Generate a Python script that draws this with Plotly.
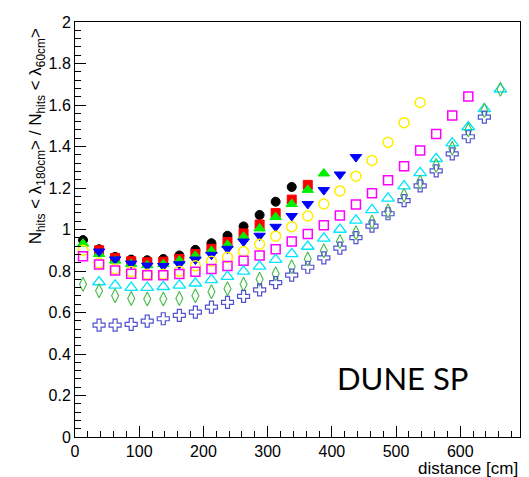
import plotly.graph_objects as go

# x positions (cm): 12.5 + 25*k
x_all = [12.5 + 25 * k for k in range(27)]

black_y = [0.949, 0.905, 0.868, 0.855, 0.852, 0.858, 0.875, 0.902, 0.934, 0.970, 1.015, 1.070, 1.134, 1.205]
red_y = [0.900, 0.863, 0.847, 0.842, 0.845, 0.858, 0.882, 0.907, 0.940, 0.981, 1.024, 1.079, 1.144, 1.215]
green_y = [0.932, 0.882, 0.850, 0.834, 0.828, 0.833, 0.850, 0.873, 0.897, 0.926, 0.965, 1.005, 1.060, 1.123, 1.191, 1.270]
blue_y = [0.894, 0.856, 0.836, 0.826, 0.824, 0.833, 0.855, 0.878, 0.907, 0.942, 0.970, 1.013, 1.065, 1.123, 1.190, 1.265, 1.349]
yellow_y = [0.900, 0.839, 0.810, 0.797, 0.784, 0.784, 0.799, 0.825, 0.847, 0.866, 0.894, 0.929, 0.968, 1.013, 1.065, 1.123,
            1.186, 1.257, 1.333, 1.420, 1.515, 1.612]
magenta_y = [0.871, 0.831, 0.803, 0.787, 0.780, 0.780, 0.786, 0.796, 0.810, 0.824, 0.849, 0.875, 0.905, 0.942, 0.978,
             1.020, 1.068, 1.120, 1.175, 1.237, 1.305, 1.381, 1.460, 1.549, 1.641]
cyan_y = [0.747, 0.731, 0.720, 0.720, 0.724, 0.731, 0.741, 0.757, 0.773, 0.798, 0.822, 0.855, 0.883, 0.918, 0.957,
          1.000, 1.044, 1.095, 1.150, 1.209, 1.273, 1.341, 1.416, 1.494, 1.581, 1.676]
diamond_y = [0.736, 0.705, 0.681, 0.668, 0.665, 0.665, 0.668, 0.681, 0.700, 0.715, 0.736, 0.760, 0.787, 0.820, 0.858,
             0.897, 0.942, 0.984, 1.036, 1.089, 1.165, 1.229, 1.309, 1.392, 1.479, 1.573, 1.676]
cross_y = [0.539, 0.539, 0.543, 0.558, 0.570, 0.586, 0.602, 0.626, 0.649, 0.678, 0.709, 0.744, 0.780, 0.818, 0.863,
           0.910, 0.961, 1.016, 1.076, 1.139, 1.210, 1.283, 1.364, 1.447, 1.542]

# (values, first x index, symbol, colour, size, line width)
series = [
    (black_y, 0, "circle", "#000000", 9, 1),
    (red_y, 1, "square", "#ff0000", 9, 1),
    (green_y, 0, "triangle-up", "#00ee00", 10, 1),
    (blue_y, 1, "triangle-down", "#0000ff", 10, 1),
    (yellow_y, 0, "circle-open", "#ffee00", 10, 1.5),
    (magenta_y, 0, "square-open", "#ff00ff", 9, 1.5),
    (cyan_y, 1, "triangle-up-open", "#00e5ff", 11, 1.3),
    (diamond_y, 0, "diamond-tall-open", "#44bb44", 10, 1.1),
    (cross_y, 1, "cross-open", "#5050d0", 10, 1.2),
]

fig = go.Figure()
for ys, start, sym, col, sz, lw in series:
    xs = x_all[start:start + len(ys)]
    fig.add_trace(go.Scatter(
        x=xs, y=ys, mode="markers",
        marker=dict(symbol=sym, color=col, size=sz, line=dict(color=col, width=lw)),
        showlegend=False,
    ))

axis_common = dict(
    showline=True, linecolor="black", linewidth=1, mirror=True,
    ticks="inside", ticklen=11, tickcolor="black", tickwidth=1,
    showgrid=False, zeroline=False, ticklabeloverflow="allow",
    tickfont=dict(family="Liberation Sans", size=16, color="black"),
)

fig.update_layout(
    width=521, height=469,
    margin=dict(l=67, r=9, t=6, b=40),
    paper_bgcolor="white", plot_bgcolor="white",
    xaxis=dict(range=[0, 693], dtick=100, tick0=0,
               minor=dict(dtick=20, ticks="inside", ticklen=6, tickcolor="black"),
               **axis_common),
    yaxis=dict(range=[0, 2], dtick=0.2, tick0=0,
               minor=dict(dtick=0.04, ticks="inside", ticklen=6, tickcolor="black"),
               **axis_common),
    annotations=[
        dict(text="distance [cm]", x=1.0, xref="paper", xanchor="right",
             y=-0.075, yref="paper", yanchor="middle", showarrow=False,
             font=dict(family="Liberation Sans", size=17, color="black")),
        dict(text="N<sub>hits</sub> < λ<sub>180cm</sub>> / N<sub>hits</sub> < λ<sub>60cm</sub>>",
             textangle=-90, x=-0.085, xref="paper", xanchor="center",
             y=0.99, yref="paper", yanchor="top", showarrow=False,
             font=dict(family="Liberation Sans", size=17, color="black")),
        dict(text="DUNE SP", x=0.735, xref="paper", xanchor="center",
             y=0.142, yref="paper", yanchor="middle", showarrow=False,
             font=dict(family="Lato", size=31, color="black")),
    ],
)

fig.write_html("out.html")
